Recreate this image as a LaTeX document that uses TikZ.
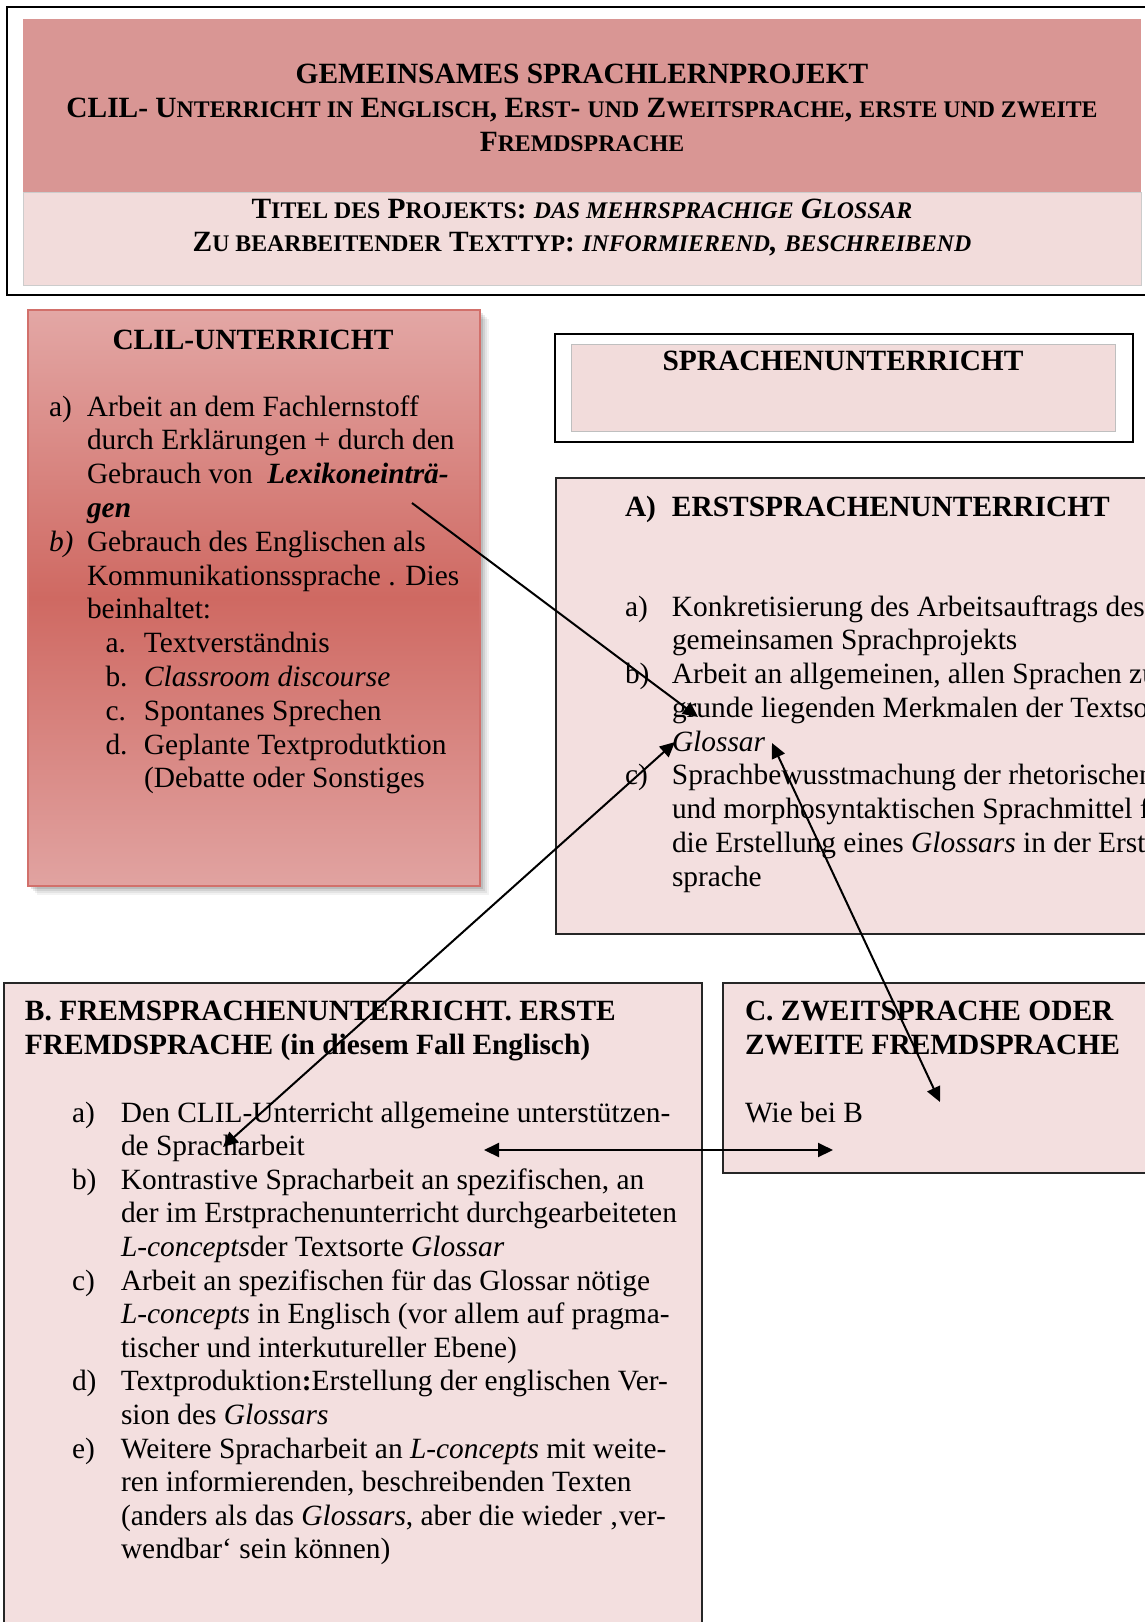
\documentclass[tikz,border=0pt]{standalone}
\usepackage{fontspec}
\setmainfont{Liberation Serif}
\usetikzlibrary{arrows.meta}
\definecolor{bandDark}{HTML}{D99694}
\definecolor{bandLight}{HTML}{F2DCDB}
\definecolor{boxFill}{HTML}{F3DFDF}
\definecolor{clilTop}{HTML}{E3A7A5}
\definecolor{clilMid}{HTML}{CF6962}
\definecolor{clilBot}{HTML}{E1A3A1}
\definecolor{clilBorder}{HTML}{D2706B}
\newcommand\bodyfont{\fontsize{14.7pt}{16.9pt}\selectfont}
\newcommand\smc[1]{{\fontsize{11.9pt}{16.9pt}\selectfont #1}}
\newcommand\pitch[1]{\fontsize{14.7pt}{#1}\selectfont}
\begin{document}
\begin{tikzpicture}[x=0.5pt,y=-0.5pt,
  txt/.style={inner sep=0pt, outer sep=0pt, font=\bodyfont},
  ttl/.style={txt, font=\bodyfont\bfseries, anchor=base},
  lst/.style={txt, anchor=base west},
  plainbox/.style={draw=black!85, line width=0.8pt, fill=boxFill, inner sep=0pt, outer sep=0pt},
  arr/.style={line width=1pt, -{Triangle[length=7.5pt,width=7pt]}},
  darr/.style={line width=1pt, {Triangle[length=7.5pt,width=7pt]}-{Triangle[length=7.5pt,width=7pt]}}]
\useasboundingbox (0,0) rectangle (1145,1622);
\clip (0,0) rectangle (1145,1622);
\fill[white] (0,0) rectangle (1145,1622);

% header
\node[draw=black, line width=1.3pt, inner sep=0pt, minimum width=581.5pt, minimum height=144pt] (head) at (588.5,151) {};
\node[fill=bandDark, inner sep=0pt, minimum width=559pt, minimum height=86.5pt] (bandA) at (582,105.5) {};
\node[fill=bandLight, draw=black!20, line width=0.3pt, inner sep=0pt, minimum width=559pt, minimum height=46.5pt] (bandB) at (582,238.5) {};
\node[ttl] (t1) at (582,83) {GEMEINSAMES SPRACHLERNPROJEKT};
\node[ttl] (t2) at (582,117) {CLIL- U\smc{NTERRICHT IN} E\smc{NGLISCH}, E\smc{RST}- \smc{UND} Z\smc{WEITSPRACHE}, \smc{ERSTE UND ZWEITE}};
\node[ttl] (t3) at (582,151.5) {F\smc{REMDSPRACHE}};
\node[ttl] (t4) at (582,218) {T\smc{ITEL DES} P\smc{ROJEKTS}: \textit{\smc{DAS MEHRSPRACHIGE} G\smc{LOSSAR}}};
\node[ttl] (t5) at (582,251.5) {Z\smc{U BEARBEITENDER} T\smc{EXTTYP}: \textit{\smc{INFORMIEREND}, \smc{BESCHREIBEND}}};

% CLIL box with shadow
\foreach \o/\op [count=\i] in {9/0.05,7/0.06,5/0.08,3/0.10}
  \fill[black, opacity=\op] (28+\o,310+\o) rectangle (480+\o,886+\o);
\node[draw=clilBorder, line width=1.3pt, top color=clilTop, bottom color=clilBot, middle color=clilMid,
  inner sep=0pt, minimum width=226pt, minimum height=288pt] (clil) at (254,598) {};
\node[ttl] (clilT) at (253,349) {CLIL-UNTERRICHT};
\node[lst] (clilL) at (49,416) {\pitch{16.9pt}\begin{tabular}[t]{@{}p{19pt}@{}l@{}}
a) & Arbeit an dem Fachlernstoff\\
 & durch Erklärungen + durch den\\
 & Gebrauch von \ \textbf{\textit{Lexikoneinträ-}}\\
 & \textbf{\textit{gen}}\\
\textit{b)} & Gebrauch des Englischen als\\
 & Kommunikationssprache . Dies\\
 & beinhaltet:\\
 & \hspace{9.25pt}\makebox[19.25pt][l]{a.}Textverständnis\\
 & \hspace{9.25pt}\makebox[19.25pt][l]{b.}\textit{Classroom discourse}\\
 & \hspace{9.25pt}\makebox[19.25pt][l]{c.}Spontanes Sprechen\\
 & \hspace{9.25pt}\makebox[19.25pt][l]{d.}Geplante Textprodutktion\\
 & \hspace{28.5pt}(Debatte oder Sonstiges
\end{tabular}};

% Sprachenunterricht
\node[draw=black, line width=1pt, inner sep=0pt, minimum width=289pt, minimum height=54pt] (spr) at (844,388) {};
\node[fill=bandLight, draw=black!25, line width=0.3pt, inner sep=0pt, minimum width=272pt, minimum height=43.5pt] (sprIn) at (843,387.5) {};
\node[ttl] (sprT) at (843,370) {SPRACHENUNTERRICHT};

% A box
\node[plainbox, minimum width=302pt, minimum height=228pt] (abox) at (858,706) {};
\node[lst, font=\bodyfont\bfseries] (aT) at (625,516) {\makebox[23.5pt][l]{A)}ERSTSPRACHENUNTERRICHT};
\node[lst] (aL) at (625,616) {\pitch{16.875pt}\begin{tabular}[t]{@{}p{23.5pt}@{}l@{}}
a) & Konkretisierung des Arbeitsauftrags des\\
 & gemeinsamen Sprachprojekts\\
b) & Arbeit an allgemeinen, allen Sprachen zu-\\
 & grunde liegenden Merkmalen der Textsorte\\
 & \textit{Glossar}\\
c) & Sprachbewusstmachung der rhetorischen\\
 & und morphosyntaktischen Sprachmittel für\\
 & die Erstellung eines \textit{Glossars} in der Erst-\\
 & sprache
\end{tabular}};

% B box
\node[plainbox, minimum width=349pt, minimum height=338.5pt] (bbox) at (353,1321.5) {};
\node[lst, font=\bodyfont\bfseries] (bT) at (25,1020) {\pitch{17pt}\begin{tabular}[t]{@{}l@{}}
B. FREMSPRACHENUNTERRICHT. ERSTE\\
FREMDSPRACHE (in diesem Fall Englisch)
\end{tabular}};
\node[lst] (bL) at (72,1122) {\pitch{16.8pt}\begin{tabular}[t]{@{}p{24.5pt}@{}l@{}}
a) & Den CLIL-Unterricht allgemeine unterstützen-\\
 & de Spracharbeit\\
b) & Kontrastive Spracharbeit an spezifischen, an\\
 & der im Erstprachenunterricht durchgearbeiteten\\
 & \textit{L-concepts}der Textsorte \textit{Glossar}\\
c) & Arbeit an spezifischen für das Glossar nötige\\
 & \textit{L-concepts} in Englisch (vor allem auf pragma-\\
 & tischer und interkutureller Ebene)\\
d) & Textproduktion\textbf{:}Erstellung der englischen Ver-\\
 & sion des \textit{Glossars}\\
e) & Weitere Spracharbeit an \textit{L-concepts} mit weite-\\
 & ren informierenden, beschreibenden Texten\\
 & (anders als das \textit{Glossars}, aber die wieder ‚ver-\\
 & wendbar‘ sein können)
\end{tabular}};

% C box
\node[plainbox, minimum width=223.5pt, minimum height=95pt] (cbox) at (946.5,1078) {};
\node[lst, font=\bodyfont\bfseries] (cT) at (745,1020) {\pitch{17pt}\begin{tabular}[t]{@{}l@{}}
C. ZWEITSPRACHE ODER\\
ZWEITE FREMDSPRACHE
\end{tabular}};
\node[lst] (cL) at (745,1122) {Wie bei B};

% connectors
\coordinate (a1s) at (412,503);
\coordinate (a1e) at (698,717);
\coordinate (a2s) at (223,1147);
\coordinate (a2e) at (675,742);
\coordinate (a3s) at (772,743);
\coordinate (a3e) at (940,1102);
\coordinate (a4s) at (484,1150);
\coordinate (a4e) at (833,1150);
\draw[arr] (a1s) -- (a1e);
\draw[darr] (a2s) -- (a2e);
\draw[darr] (a3s) -- (a3e);
\draw[darr] (a4s) -- (a4e);
\end{tikzpicture}
\end{document}
